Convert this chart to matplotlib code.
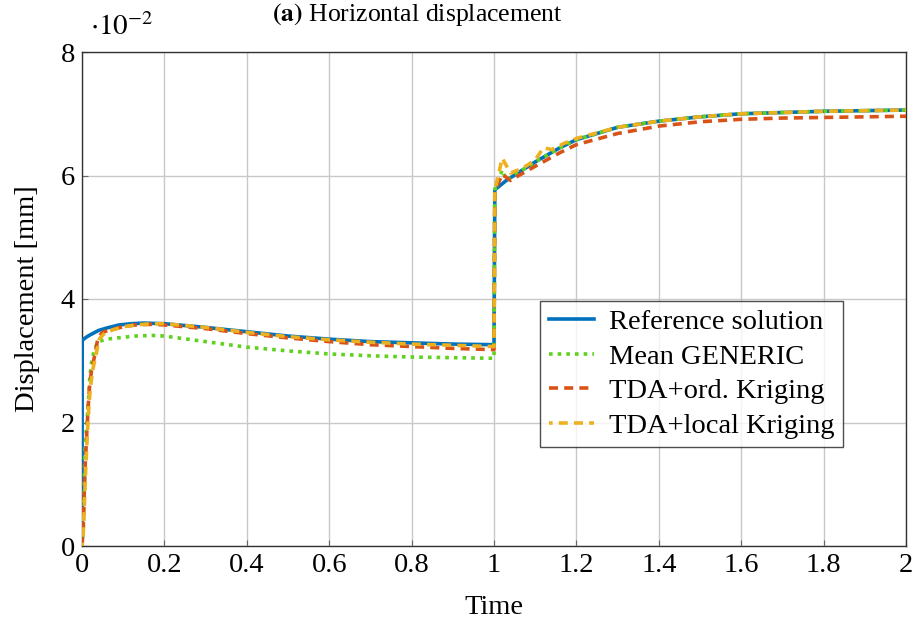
import matplotlib
matplotlib.use("Agg")
import matplotlib.pyplot as plt

plt.rcParams['font.family'] = ['Liberation Serif', 'DejaVu Serif']
plt.rcParams['mathtext.fontset'] = 'stix'

# ---- data (values in units of 1e-2 mm) ----
t_ref = [0.0, 0.0005, 0.01, 0.02, 0.04, 0.06, 0.09, 0.12, 0.15, 0.2, 0.3, 0.4, 0.5, 0.6,
         0.7, 0.8, 0.9, 1.0, 1.002, 1.03, 1.06, 1.1, 1.16, 1.2, 1.3, 1.4, 1.5, 1.6, 1.7,
         1.8, 1.9, 2.0]
y_ref = [0.0, 3.33, 3.38, 3.42, 3.49, 3.53, 3.58, 3.60, 3.61, 3.60, 3.54, 3.47, 3.40, 3.35,
         3.31, 3.29, 3.27, 3.26, 5.77, 5.92, 6.05, 6.22, 6.45, 6.58, 6.78, 6.88, 6.95, 7.00,
         7.02, 7.04, 7.05, 7.06]

t_gen = [0.0, 0.003, 0.005, 0.007, 0.012, 0.016, 0.019, 0.024, 0.03, 0.039, 0.06, 0.1, 0.13,
         0.17, 0.2, 0.3, 0.4, 0.5, 0.6, 0.7, 0.8, 0.9, 1.0, 1.002, 1.02, 1.03, 1.06, 1.1,
         1.16, 1.2, 1.3, 1.4, 1.5, 1.6, 1.7, 1.8, 1.9, 2.0]
y_gen = [0.0, 0.2, 0.9, 1.55, 2.0, 2.4, 2.74, 3.01, 3.18, 3.31, 3.35, 3.38, 3.40, 3.41, 3.40,
         3.31, 3.22, 3.16, 3.11, 3.08, 3.06, 3.05, 3.04, 5.77, 6.09, 5.92, 6.05, 6.22,
         6.45, 6.58, 6.78, 6.88, 6.95, 7.00, 7.02, 7.04, 7.05, 7.06]

t_ord = [0.0, 0.003, 0.005, 0.008, 0.012, 0.016, 0.019, 0.024, 0.032, 0.039, 0.05, 0.068,
         0.1, 0.13, 0.17, 0.2, 0.3, 0.4, 0.5, 0.6, 0.7, 0.8, 0.9, 1.0, 1.002, 1.02, 1.04,
         1.06, 1.1, 1.16, 1.2, 1.3, 1.4, 1.5, 1.6, 1.7, 1.8, 1.9, 2.0]
y_ord = [0.0, 0.3, 0.75, 1.34, 1.88, 2.36, 2.64, 2.88, 3.12, 3.38, 3.46, 3.50, 3.55, 3.58,
         3.59, 3.58, 3.52, 3.44, 3.37, 3.31, 3.26, 3.23, 3.20, 3.18, 5.75, 6.02, 5.92,
         6.0, 6.15, 6.37, 6.50, 6.68, 6.80, 6.87, 6.91, 6.93, 6.94, 6.95, 6.96]

t_loc = [0.0, 0.003, 0.006, 0.009, 0.013, 0.017, 0.021, 0.026, 0.034, 0.042, 0.055, 0.075,
         0.1, 0.13, 0.17, 0.2, 0.3, 0.4, 0.5, 0.6, 0.7, 0.8, 0.9, 1.0, 1.002, 1.02, 1.04,
         1.07, 1.1, 1.12, 1.14, 1.17, 1.2, 1.3, 1.4, 1.5, 1.6, 1.7, 1.8, 1.9, 2.0]
y_loc = [0.0, 0.2, 0.7, 1.25, 1.8, 2.3, 2.6, 2.85, 3.1, 3.35, 3.45, 3.5, 3.55, 3.58,
         3.60, 3.60, 3.54, 3.46, 3.39, 3.34, 3.30, 3.27, 3.25, 3.23, 5.76, 6.28, 6.04,
         6.12, 6.25, 6.45, 6.42, 6.52, 6.60, 6.78, 6.88, 6.95, 7.00, 7.02, 7.04, 7.05, 7.06]

labels = ["Reference solution", "Mean GENERIC", "TDA+ord. Kriging", "TDA+local Kriging"]
x_ticks = [0, 0.2, 0.4, 0.6, 0.8, 1, 1.2, 1.4, 1.6, 1.8, 2]
x_ticklabels = ["0", "0.2", "0.4", "0.6", "0.8", "1", "1.2", "1.4", "1.6", "1.8", "2"]
y_ticks = [0, 2, 4, 6, 8]
y_ticklabels = ["0", "2", "4", "6", "8"]

fig = plt.figure(figsize=(9.15, 6.19), dpi=100)
ax = fig.add_axes([82/915, 1-546/619, 824/915, 494/619])

ax.plot(t_ref, y_ref, color='#0072BD', lw=2.6, label=labels[0], zorder=3)
ax.plot(t_gen, y_gen, color='#5fd21e', lw=2.6, ls=(0, (1.0, 1.4)), label=labels[1], zorder=4)
ax.plot(t_ord, y_ord, color='#D95319', lw=2.6, ls=(0, (2.5, 1.7)), label=labels[2], zorder=5)
ax.plot(t_loc, y_loc, color='#EDB120', lw=2.6, ls=(1.5, (2.5, 1.7)), label=labels[3], zorder=6)

ax.set_xlim(0, 2)
ax.set_ylim(0, 8)
ax.set_xticks(x_ticks)
ax.set_xticklabels(x_ticklabels)
ax.set_yticks(y_ticks)
ax.set_yticklabels(y_ticklabels)
ax.tick_params(direction='in', labelsize=20.5, length=4, color='#666666', pad=5)
ax.grid(True, color='#c8c8c8', lw=1.0)
ax.set_axisbelow(True)
for s in ax.spines.values():
    s.set_color('#333333')
    s.set_linewidth(1.0)

ax.set_xlabel("Time", fontsize=20.5, labelpad=12)
ax.set_ylabel("Displacement [mm]", fontsize=20.5, labelpad=15)

fig.text(90/915, 1-35/619, r"$\cdot10^{-2}$", fontsize=21, ha='left', va='baseline')
fig.text(417/915, 1-21/619, r"$\mathbf{(a)}$ Horizontal displacement", fontsize=18.5,
         ha='center', va='baseline')

leg = ax.legend(loc='lower right', bbox_to_anchor=(0.923, 0.2), fontsize=20.5, frameon=True,
                fancybox=False, edgecolor='#222222', handlelength=1.6, borderpad=0.3,
                labelspacing=0.3, handletextpad=0.5, borderaxespad=0)
leg.get_frame().set_linewidth(1.0)

fig.savefig("out.png", dpi=100)
